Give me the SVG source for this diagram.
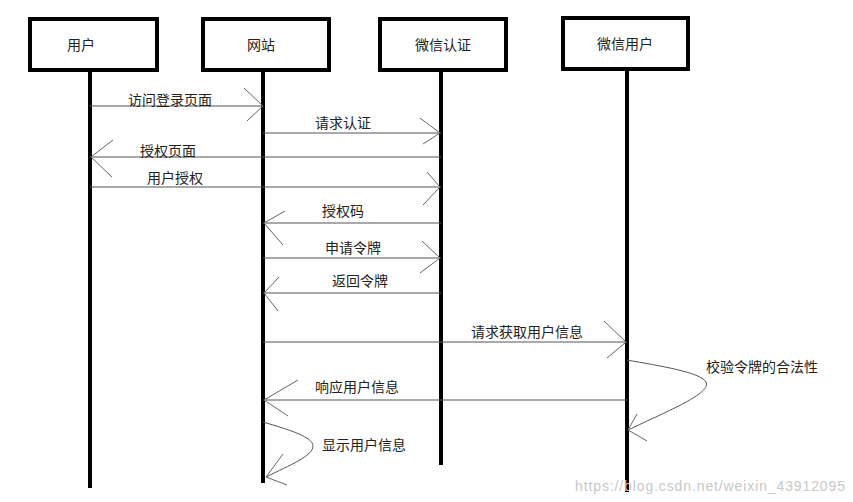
<svg xmlns="http://www.w3.org/2000/svg" width="853" height="502" viewBox="0 0 853 502">
<style>
.box{fill:#fff;stroke:#000;stroke-width:4}
.life{stroke:#000;stroke-width:4;fill:none}
.lbl{font-family:"Noto Sans CJK SC","Noto Sans",sans-serif;font-size:14px;fill:#222}
.ctr{text-anchor:middle}
.msg{stroke:#555;stroke-width:1;fill:none}
.head{stroke:#666;stroke-width:1;fill:none}
.wm{font-family:"Liberation Sans",Arial,sans-serif;font-size:14px;fill:#c8c8c8}
</style>
<rect width="853" height="502" fill="#fff"/>
<g id="node-user">
<rect class="box" x="30" y="19" width="127" height="51"/>
<line class="life" x1="90" y1="70" x2="90" y2="488"/>
<text class="lbl ctr" x="81" y="50">用户</text>
</g>
<g id="node-site">
<rect class="box" x="203" y="19" width="126" height="51"/>
<line class="life" x1="263" y1="70" x2="263" y2="483"/>
<text class="lbl ctr" x="261" y="50">网站</text>
</g>
<g id="node-wxauth">
<rect class="box" x="380" y="19" width="126" height="51"/>
<line class="life" x1="441" y1="70" x2="441" y2="465"/>
<text class="lbl ctr" x="443" y="50">微信认证</text>
</g>
<g id="node-wxuser">
<rect class="box" x="563" y="18" width="125" height="51"/>
<line class="life" x1="627" y1="69" x2="627" y2="492"/>
<text class="lbl ctr" x="625" y="49">微信用户</text>
</g>
<g id="connectors">
<line class="msg" x1="90" y1="106" x2="263" y2="106"/>
<polyline class="head" points="244,88 263,106 247,121"/>
<text class="lbl" x="128" y="105">访问登录页面</text>

<line class="msg" x1="263" y1="133" x2="441" y2="133"/>
<polyline class="head" points="420,118 440,133 423,144"/>
<text class="lbl" x="315" y="128">请求认证</text>

<line class="msg" x1="441" y1="157" x2="90" y2="157"/>
<polyline class="head" points="113,140 91,157 112,177"/>
<text class="lbl" x="140" y="156">授权页面</text>

<line class="msg" x1="90" y1="187" x2="441" y2="187"/>
<polyline class="head" points="427,172 440,187 423,205"/>
<text class="lbl" x="147" y="183">用户授权</text>

<line class="msg" x1="441" y1="223" x2="263" y2="223"/>
<polyline class="head" points="285,211 264,223 283,245"/>
<text class="lbl" x="322" y="216">授权码</text>

<line class="msg" x1="263" y1="258" x2="441" y2="258"/>
<polyline class="head" points="422,241 440,258 420,273"/>
<text class="lbl" x="325" y="253">申请令牌</text>

<line class="msg" x1="441" y1="293" x2="263" y2="293"/>
<polyline class="head" points="279,277 264,293 278,311"/>
<text class="lbl" x="332" y="286">返回令牌</text>

<line class="msg" x1="263" y1="342" x2="627" y2="342"/>
<polyline class="head" points="604,321 626,342 607,358"/>
<text class="lbl" x="471" y="337">请求获取用户信息</text>

<path class="msg" d="M627,360 C660,366 700,372 706,382 C712,393 670,410 628,430"/>
<polyline class="head" points="637,414 628,430 647,441"/>
<text class="lbl" x="706" y="372">校验令牌的合法性</text>

<line class="msg" x1="627" y1="400" x2="263" y2="400"/>
<polyline class="head" points="298,380 264,400 288,416"/>
<text class="lbl" x="315" y="392">响应用户信息</text>

<path class="msg" d="M263,422 C290,430 313,437 313,446 C313,456 290,465 266,477"/>
<polyline class="head" points="283,454 266,477 287,485"/>
<text class="lbl" x="322" y="450">显示用户信息</text>
</g>
<text class="wm" x="575" y="491" textLength="270">https://blog.csdn.net/weixin_43912095</text>
</svg>
